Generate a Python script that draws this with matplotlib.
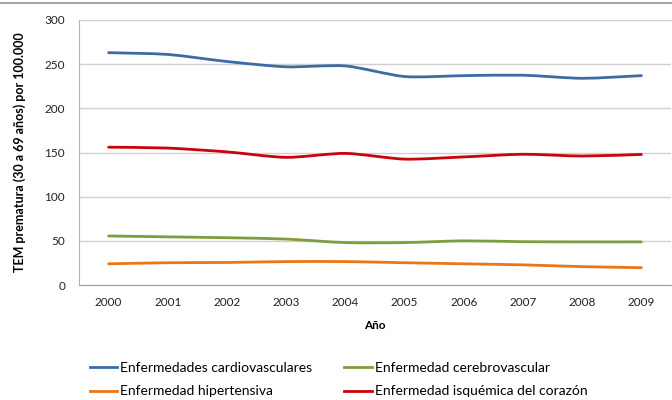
import numpy as np
import matplotlib.pyplot as plt
from matplotlib.path import Path
from matplotlib.patches import PathPatch
from matplotlib.lines import Line2D

# datos (TEM prematura 30-69 años por 100.000)
years = ["2000", "2001", "2002", "2003", "2004", "2005", "2006", "2007", "2008", "2009"]
cardio = [263, 261, 253, 247, 248, 236, 237, 237.5, 234, 237]
cerebro = [55.5, 54.5, 53.5, 52, 48, 48, 50, 49, 48.8, 48.8]
hiper = [24, 25.2, 25.5, 26.5, 26.5, 25.2, 24, 22.8, 20.8, 19.6]
isquemica = [156, 155, 150.7, 144.5, 149, 142.5, 145, 148, 146, 147.8]

labels = ["Enfermedades cardiovasculares", "Enfermedad cerebrovascular",
          "Enfermedad hipertensiva", "Enfermedad isquémica del corazón"]
colors = ["#3E6BA3", "#7E9D3E", "#EC7617", "#C8040C"]

plt.rcParams['font.family'] = ['Lato', 'DejaVu Sans']


def smooth_path(x, y, t=1/8):
    # curva suavizada tipo Excel (Catmull-Rom -> Bezier)
    pts = np.column_stack([x, y]).astype(float)
    verts = [pts[0]]
    codes = [Path.MOVETO]
    n = len(pts)
    for i in range(n - 1):
        p0 = pts[i - 1] if i > 0 else pts[i]
        p1 = pts[i]
        p2 = pts[i + 1]
        p3 = pts[i + 2] if i + 2 < n else pts[i + 1]
        c1 = p1 + (p2 - p0) * t
        c2 = p2 - (p3 - p1) * t
        verts += [c1, c2, p2]
        codes += [Path.CURVE4] * 3
    return Path(verts, codes)


fig = plt.figure(figsize=(6.72, 4.0), dpi=100)
ax = fig.add_axes([79 / 672, 1 - 285 / 400, 592 / 672, 265 / 400])

x = np.arange(len(years))
series = [cardio, cerebro, hiper, isquemica]
for vals, c in zip(series, colors):
    ax.add_patch(PathPatch(smooth_path(x, vals), facecolor='none', edgecolor=c,
                           lw=2.0, capstyle='round', joinstyle='round', zorder=3))

ax.set_xlim(-0.5, 9.5)
ax.set_ylim(0, 300)
ax.set_yticks(range(0, 301, 50))
ax.set_xticks(x)
ax.set_xticklabels(years)
ax.yaxis.grid(True, color='#D0D0D0', lw=1)
ax.set_axisbelow(True)
ax.tick_params(length=0, labelsize=8.5, colors='#222222')
ax.tick_params(axis='x', pad=9)
ax.tick_params(axis='y', pad=10)

ax.spines['right'].set_visible(False)
ax.spines['top'].set_color('#D0D0D0')
ax.spines['left'].set_color('#B0B0B0')
ax.spines['bottom'].set_color('#A0A0A0')

ax.set_xlabel("Año", fontsize=8.5, fontweight='bold', labelpad=8)
ax.set_ylabel("TEM prematura (30 a 69 años) por 100.000", fontsize=9,
              fontweight='bold', labelpad=13)

# borde superior del marco del gráfico
fig.add_artist(Line2D([0, 1], [1 - 3 / 400, 1 - 3 / 400], color='#A8A8A8', lw=1.5))

handles = [Line2D([], [], color=c, lw=2.0) for c in colors]
order = [0, 2, 1, 3]
fig.legend([handles[i] for i in order], [labels[i] for i in order],
           loc='upper left', bbox_to_anchor=(84 / 672, 1 - 356 / 400), ncol=2,
           frameon=False, fontsize=10, handlelength=2.0, handletextpad=0.2,
           columnspacing=2.3, labelspacing=0.85, borderaxespad=0)

plt.savefig("out.png", dpi=100)
